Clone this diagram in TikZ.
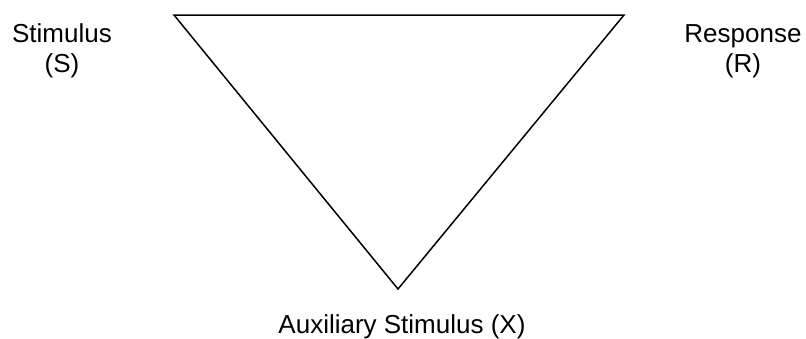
\documentclass[tikz,border=0pt]{standalone}
\usepackage{fontspec}
\setmainfont{Liberation Sans}
\usetikzlibrary{positioning}

\begin{document}
\begin{tikzpicture}[x=1pt,y=-1pt,line width=1.5pt,
  lbl/.style={font=\fontsize{26}{30}\selectfont,align=center,inner sep=0pt}]
\useasboundingbox (0,0) rectangle (806,338);
\coordinate (s) at (174,15);
\coordinate (r) at (624,15);
\coordinate (x) at (398,289);
\draw[line join=miter] (s) -- (r) -- (x) -- cycle;
\node[lbl] (stim) at (62,51) {Stimulus\\(S)};
\node[lbl] (resp) at (743,51) {Response\\(R)};
\node[lbl] (aux) at (402,327) {Auxiliary Stimulus (X)};
\end{tikzpicture}
\end{document}
